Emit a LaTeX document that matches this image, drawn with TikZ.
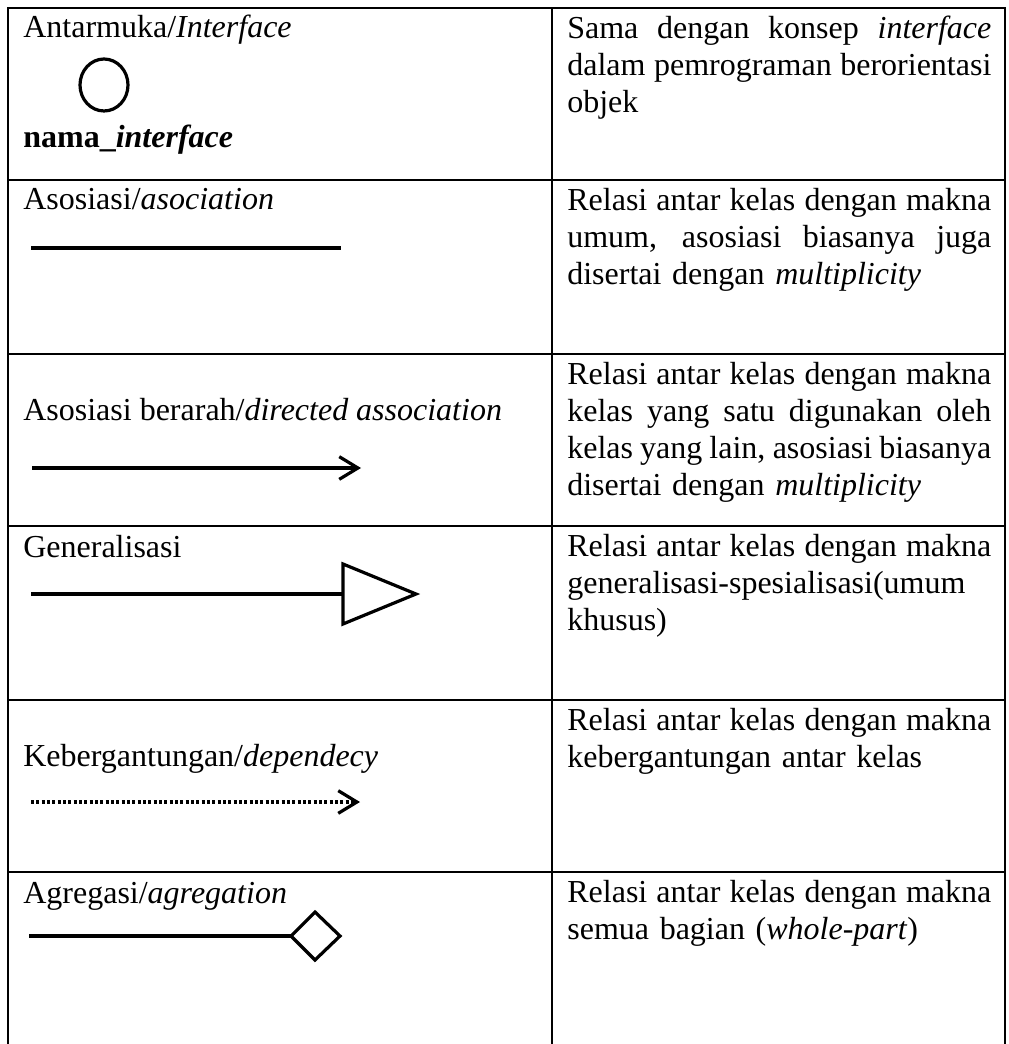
\documentclass[tikz,border=0pt]{standalone}
\usepackage{fontspec}
\setmainfont{Liberation Serif}
\usepackage{tikz}
\usetikzlibrary{arrows.meta}
\tikzset{>={Straight Barb[length=14pt, width=17pt]}}
\newcommand{\jline}[1]{\makebox[318pt][s]{\spaceskip=0pt\xspaceskip=0pt\relax #1}}

\begin{document}
\begin{tikzpicture}[x=.75pt, y=-.75pt, line width=2pt,
    cell/.style={anchor=north west, inner sep=0pt, text width=320pt, align=left, font=\fontsize{24}{27.75}\selectfont},
    lbl/.style={anchor=base west, inner sep=0pt, font=\fontsize{24}{27.75}\selectfont},
    sym/.style={line width=2.4pt}]
    \useasboundingbox(0, 0)rectangle(1008, 1044);
    % grid
    \draw(8, 1044)--(8, 8)--(1005, 8)--(1005, 1044)(552, 8)--(552, 1044);
    \foreach \y in {180, 354, 526, 700, 872}
        \draw(8, \y)--(1005, \y);
    % left column
    \node[lbl](ifc)at(22, 38){Antarmuka/\textit{Interface}};
    \coordinate(ball)at(104, 85);
    \draw[sym](ball)ellipse[x radius=18pt, y radius=19.5pt];
    \node[lbl](ifcname)at(22, 148){\textbf{nama\_\textit{interface}}};
    \node[lbl](asc)at(22, 210){Asosiasi/\textit{asociation}};
    \draw[sym](31, 248)--(341, 248);
    \node[lbl](dirasc)at(22, 420){Asosiasi berarah/\textit{directed association}};
    \draw[sym, ->](32, 468)--(361, 468);
    \node[lbl](gen)at(22, 557){Generalisasi};
    \coordinate(tri)at(343, 594);
    \draw[sym](31, 594)--(tri);
    \draw[sym](tri)++(0, -30)--++(73, 30)--++(-73, 30)--cycle;
    \node[lbl](dep)at(22, 766){Kebergantungan/\textit{dependecy}};
    \draw[sym, dash pattern=on 2.2pt off 1.8pt, ->](31, 802)--(360, 802);
    \node[lbl](agr)at(22, 903){Agregasi/\textit{agregation}};
    \coordinate(dia)at(291, 936);
    \draw[sym](29, 936)--(dia);
    \draw[sym](dia)--++(24, -24)--++(25, 24)--++(-25, 24)--cycle;
    % right column
    \node[cell](d1)at(566, 11){\strut\jline{Sama dengan konsep \textit{interface}}\\
        \jline{dalam pemrograman berorientasi}\\ objek};
    \node[cell](d2)at(566, 183){\strut\jline{Relasi antar kelas dengan makna}\\
        \jline{umum, asosiasi biasanya juga}\\ disertai dengan \textit{multiplicity}};
    \node[cell](d3)at(566, 357){\strut\jline{Relasi antar kelas dengan makna}\\
        \jline{kelas yang satu digunakan oleh}\\
        \jline{kelas yang lain, asosiasi biasanya}\\ disertai dengan \textit{multiplicity}};
    \node[cell](d4)at(566, 529){\strut\jline{Relasi antar kelas dengan makna}\\
        generalisasi-spesialisasi(umum\\ khusus)};
    \node[cell](d5)at(566, 703){\strut\jline{Relasi antar kelas dengan makna}\\
        kebergantungan antar kelas};
    \node[cell](d6)at(566, 875){\strut\jline{Relasi antar kelas dengan makna}\\
        semua bagian (\textit{whole-part})};
\end{tikzpicture}
\end{document}
